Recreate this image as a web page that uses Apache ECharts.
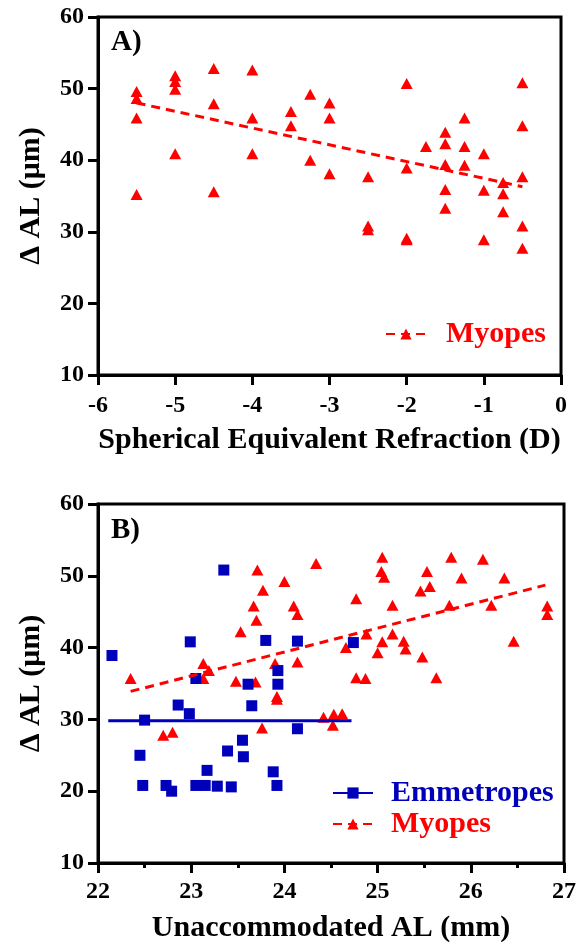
<!DOCTYPE html>
<html><head><meta charset="utf-8">
<script src="https://cdn.jsdelivr.net/npm/echarts@6/dist/echarts.min.js"></script>
<style>html,body{margin:0;padding:0;background:#fff}#c{width:582px;height:947px}</style>
</head><body><div id="c"></div>
<script>
// Panel A: Myopes, spherical equivalent refraction (D) vs delta AL (um)
const serA = [-5.5,-5.5,-5.5,-5.5, -5,-5,-5,-5, -4.5,-4.5,-4.5, -4,-4,-4, -3.5,-3.5, -3.25,-3.25, -3,-3,-3,
  -2.5,-2.5,-2.5, -2,-2,-2,-2, -1.75, -1.5,-1.5,-1.5,-1.5,-1.5, -1.25,-1.25,-1.25, -1,-1,-1, -0.75,-0.75,-0.75,
  -0.5,-0.5,-0.5,-0.5,-0.5];
const dalA = [49.6,48.6,45.9,35.2, 51.8,51.0,49.9,40.9, 52.8,47.9,35.6, 52.6,45.9,40.9, 46.8,44.8, 49.2,40.0, 48.0,45.9,38.1,
  37.7,30.8,30.3, 50.7,38.9,29.1,28.9, 41.9, 43.9,42.3,39.4,35.9,33.3, 45.9,41.9,39.3, 40.9,35.8,28.9, 36.9,35.3,32.8,
  50.8,44.8,37.7,30.8,27.7];
const trendAx = [-5.5, -0.5];
const trendAy = [48.0, 36.3];

// Panel B: unaccommodated AL (mm) vs delta AL (um)
const emmAL = [22.15,23.35,22.99,23.80,24.14,23.05,23.93,23.61,23.93,22.86,22.98,23.65,22.50,24.14,23.55,23.39,23.56,22.45,
  23.17,23.88,22.48,22.73,22.79,23.05,23.15,23.28,23.43,23.92,24.74];
const emmDAL = [38.9,50.8,40.8,41.0,40.9,35.7,36.8,34.9,34.9,32.0,30.8,31.9,29.9,28.7,27.1,25.6,24.8,25.0,
  22.9,22.7,20.8,20.8,20.0,20.8,20.8,20.7,20.6,20.8,40.7];
const myoAL = [22.35,22.70,22.80,23.13,23.19,23.13,23.53,23.71,23.77,24.00,24.34,23.67,23.70,24.10,24.14,23.48,23.69,23.90,
  24.14,23.92,23.92,23.76,24.42,24.53,24.52,24.62,24.77,24.66,24.77,24.87,24.88,25.05,25.04,25.07,25.16,25.05,25.00,
  25.16,25.28,25.30,25.48,25.46,25.53,25.56,25.63,25.77,25.79,25.90,26.13,26.22,26.36,26.46,26.82,26.82];
const myoDAL = [35.7,27.8,28.2,37.8,36.8,35.7,42.2,50.8,48.0,49.2,51.7,45.8,43.8,45.8,44.6,35.3,35.2,37.8,
  38.0,33.2,32.8,28.8,30.3,30.7,29.2,30.8,46.8,40.0,35.8,35.7,41.9,52.6,50.6,49.8,45.9,40.8,39.3,
  41.9,40.9,39.8,38.7,47.9,50.6,48.5,35.8,45.9,52.6,49.7,52.3,45.9,49.7,40.9,45.8,44.6];
const trendEmmX = [22.11, 24.72];
const trendEmmY = [29.8, 29.8];
const trendMyoX = [22.35, 26.80];
const trendMyoY = [33.9, 48.7];

const xTicksA = {min: -6, max: 0, interval: 1};
const xTicksB = {min: 22, max: 27, interval: 1};
const yTicks = {min: 10, max: 60, interval: 10};

const RED = '#ff0000', BLUE = '#0000bb', FF = 'Liberation Serif';
const pairs = (xs, ys) => xs.map((x, i) => [x, ys[i]]);

const axisCommon = {
  axisLine: {show: true, onZero: false, lineStyle: {color: '#000', width: 3}},
  axisTick: {show: true, inside: false, length: 10, lineStyle: {color: '#000', width: 3}},
  splitLine: {show: false},
  nameTextStyle: {fontFamily: FF, fontWeight: 'bold', fontSize: 30, color: '#000'},
};
const labelStyle = (m) => ({color: '#000', fontFamily: FF, fontWeight: 'bold', fontSize: 24, margin: m});

const chart = echarts.init(document.getElementById('c'));
chart.setOption({
  animation: false,
  backgroundColor: '#fff',
  title: [
    {text: 'A)', left: 111, top: 28, padding: 0, textStyle: {fontFamily: FF, fontWeight: 'bold', fontSize: 29, color: '#000'}},
    {text: 'B)', left: 111, top: 516, padding: 0, textStyle: {fontFamily: FF, fontWeight: 'bold', fontSize: 29, color: '#000'}}
  ],
  grid: [
    {left: 98, right: 21, top: 17, height: 358, show: true, borderColor: '#000', borderWidth: 3},
    {left: 98, right: 18, top: 504, height: 359, show: true, borderColor: '#000', borderWidth: 3}
  ],
  xAxis: [
    Object.assign({}, axisCommon, {type: 'value', gridIndex: 0, min: xTicksA.min, max: xTicksA.max, interval: xTicksA.interval,
      name: 'Spherical Equivalent Refraction (D)', nameLocation: 'middle', nameGap: 50, axisLabel: labelStyle(19)}),
    Object.assign({}, axisCommon, {type: 'value', gridIndex: 1, min: xTicksB.min, max: xTicksB.max, interval: xTicksB.interval,
      name: 'Unaccommodated AL (mm)', nameLocation: 'middle', nameGap: 50, axisLabel: labelStyle(17),
      minorTick: {show: true, splitNumber: 2, length: 5, lineStyle: {color: '#000', width: 3}}})
  ],
  yAxis: [
    Object.assign({}, axisCommon, {type: 'value', gridIndex: 0, min: yTicks.min, max: yTicks.max, interval: yTicks.interval,
      name: 'Δ AL (μm)', nameLocation: 'middle', nameGap: 52, axisLabel: labelStyle(14)}),
    Object.assign({}, axisCommon, {type: 'value', gridIndex: 1, min: yTicks.min, max: yTicks.max, interval: yTicks.interval,
      name: 'Δ AL (μm)', nameLocation: 'middle', nameGap: 52, axisLabel: labelStyle(14)})
  ],
  legend: [
    {data: [{name: 'Myopes', textStyle: {color: RED}}], orient: 'vertical', left: 385, top: 319, padding: 0,
      itemWidth: 40, itemHeight: 14, selectedMode: false,
      textStyle: {fontFamily: FF, fontWeight: 'bold', fontSize: 30, padding: [0, 0, 0, 15]}},
    {data: [{name: 'Emmetropes', textStyle: {color: BLUE}}, {name: 'Myopes', textStyle: {color: RED}}],
      orient: 'vertical', left: 332, top: 778, padding: 0, itemGap: 1,
      itemWidth: 40, itemHeight: 14, selectedMode: false,
      textStyle: {fontFamily: FF, fontWeight: 'bold', fontSize: 30, padding: [0, 0, 0, 13]}}
  ],
  series: [
    {name: 'Myopes A points', type: 'scatter', xAxisIndex: 0, yAxisIndex: 0, symbol: 'triangle', symbolSize: [12, 11],
      itemStyle: {color: RED, opacity: 1}, data: pairs(serA, dalA)},
    {name: 'Myopes', type: 'line', xAxisIndex: 0, yAxisIndex: 0, symbol: 'triangle', showSymbol: false,
      itemStyle: {color: RED}, lineStyle: {color: RED, width: 3, type: [9, 6]}, data: pairs(trendAx, trendAy)},
    {name: 'Myopes B points', type: 'scatter', xAxisIndex: 1, yAxisIndex: 1, symbol: 'triangle', symbolSize: [12, 11],
      itemStyle: {color: RED, opacity: 1}, data: pairs(myoAL, myoDAL)},
    {name: 'Myopes', type: 'line', xAxisIndex: 1, yAxisIndex: 1, symbol: 'triangle', showSymbol: false,
      itemStyle: {color: RED}, lineStyle: {color: RED, width: 3, type: [9, 6]}, data: pairs(trendMyoX, trendMyoY)},
    {name: 'Emmetropes B points', type: 'scatter', xAxisIndex: 1, yAxisIndex: 1, symbol: 'rect', symbolSize: 11,
      itemStyle: {color: BLUE, opacity: 1}, data: pairs(emmAL, emmDAL)},
    {name: 'Emmetropes', type: 'line', xAxisIndex: 1, yAxisIndex: 1, symbol: 'rect', showSymbol: false,
      itemStyle: {color: BLUE}, lineStyle: {color: BLUE, width: 3, type: 'solid'}, data: pairs(trendEmmX, trendEmmY)}
  ]
});
</script></body></html>
